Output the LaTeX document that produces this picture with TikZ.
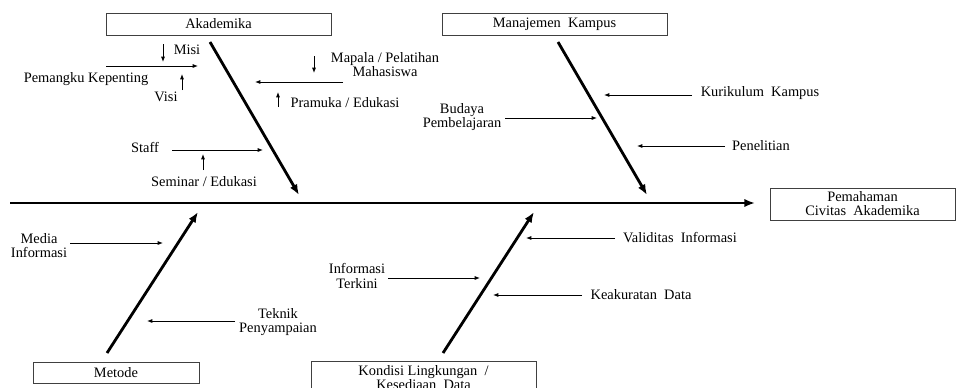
\documentclass[tikz,border=0pt]{standalone}
\usepackage{fontspec}
\setmainfont{Liberation Serif}
\usetikzlibrary{arrows.meta}

\tikzset{
  catbox/.style={draw=black!75, line width=0.6pt, inner sep=0pt, align=center},
  lbl/.style={inner sep=0pt, align=center},
  spine/.style={line width=1.7pt, -{Latex[length=9pt,width=7pt]}},
  bone/.style={line width=2.4pt, -{Latex[length=9pt,width=7pt]}},
  twig/.style={line width=0.8pt, -{Latex[length=4.5pt,width=3.5pt]}}
}

\begin{document}
\begin{tikzpicture}[x=0.03cm, y=-0.03cm, font=\fontsize{12.3}{12}\selectfont]
  \useasboundingbox (0,0) rectangle (957,387);

  % category boxes
  \node[catbox, minimum width=6.75cm, minimum height=0.66cm] (akad) at (218.5,24) {Akademika};
  \node[catbox, minimum width=6.75cm, minimum height=0.66cm] (manaj) at (554.5,24) {Manajemen\ \ Kampus};
  \node[catbox, minimum width=4.98cm, minimum height=0.63cm] (metode) at (116,372.5) {Metode};
  \node[catbox, anchor=north, minimum width=6.75cm, minimum height=1.0cm, inner ysep=1pt] (kondisi) at (423.5,361) {Kondisi Lingkungan\ \ /\\Kesediaan\ \ Data};
  % effect
  \node[catbox, minimum width=5.55cm, minimum height=0.96cm] (efek) at (862.5,204) {Pemahaman\\Civitas\ \ Akademika};

  % spine and bones
  \coordinate (tail) at (10,203);
  \coordinate (head) at (755,203);
  \coordinate (b1s) at (210,42);   \coordinate (b1e) at (299,195);
  \coordinate (b2s) at (558,42);   \coordinate (b2e) at (647,195);
  \coordinate (b3s) at (107,353);  \coordinate (b3e) at (198,212);
  \coordinate (b4s) at (443,353);  \coordinate (b4e) at (534,212);

  % akademika causes
  \node[lbl] (pemangku) at (86,79) {Pemangku Kepenting};
  \node[lbl] (misi) at (187,50) {Misi};
  \node[lbl] (visi) at (166,97) {Visi};
  \node[lbl] (mapala) at (385,65) {Mapala / Pelatihan\\Mahasiswa};
  \node[lbl] (pramuka) at (345,103) {Pramuka / Edukasi};
  \node[lbl] (staff) at (145,147) {Staff};
  \node[lbl] (seminar) at (204,182) {Seminar / Edukasi};
  \coordinate (pk1) at (106,66);   \coordinate (pk2) at (198,66);
  \coordinate (mi1) at (163,44);   \coordinate (mi2) at (163,62);
  \coordinate (vi1) at (182,90);   \coordinate (vi2) at (182,74);
  \coordinate (mp1) at (343,82);   \coordinate (mp2) at (255,82);
  \coordinate (md1) at (314,56);   \coordinate (md2) at (314,73);
  \coordinate (pr1) at (278,107);  \coordinate (pr2) at (278,92);
  \coordinate (st1) at (172,150);  \coordinate (st2) at (263,150);
  \coordinate (se1) at (203,170);  \coordinate (se2) at (203,154);

  % manajemen causes
  \node[lbl] (kurikulum) at (760,93) {Kurikulum\ \ Kampus};
  \node[lbl] (budaya) at (462,117) {Budaya\\Pembelajaran};
  \node[lbl] (penelitian) at (761,146) {Penelitian};
  \coordinate (ku1) at (692,95);   \coordinate (ku2) at (604,95);
  \coordinate (bu1) at (505,118);  \coordinate (bu2) at (597,118);
  \coordinate (pe1) at (725,146);  \coordinate (pe2) at (637,146);

  % metode causes
  \node[lbl] (media) at (39,246) {Media\\Informasi};
  \node[lbl] (teknik) at (278,322) {Teknik\\Penyampaian};
  \coordinate (me1) at (70,243);   \coordinate (me2) at (163,243);
  \coordinate (te1) at (235,321);  \coordinate (te2) at (147,321);

  % kondisi causes
  \node[lbl] (terkini) at (357,276) {Informasi\\Terkini};
  \node[lbl] (validitas) at (680,238) {Validitas\ \ Informasi};
  \node[lbl] (akurat) at (641,295) {Keakuratan\ \ Data};
  \coordinate (in1) at (388,278);  \coordinate (in2) at (480,278);
  \coordinate (va1) at (615,238);  \coordinate (va2) at (526,238);
  \coordinate (ke1) at (582,295);  \coordinate (ke2) at (493,295);


  % spine
  \draw[spine] (tail) -- (head);
  % bones
  \draw[bone] (b1s) -- (b1e);
  \draw[bone] (b2s) -- (b2e);
  \draw[bone] (b3s) -- (b3e);
  \draw[bone] (b4s) -- (b4e);

  % akademika
  \draw[twig] (pk1) -- (pk2);
  \draw[twig] (mi1) -- (mi2);
  \draw[twig] (vi1) -- (vi2);
  \draw[twig] (mp1) -- (mp2);
  \draw[twig] (md1) -- (md2);
  \draw[twig] (pr1) -- (pr2);
  \draw[twig] (st1) -- (st2);
  \draw[twig] (se1) -- (se2);

  % manajemen
  \draw[twig] (ku1) -- (ku2);
  \draw[twig] (bu1) -- (bu2);
  \draw[twig] (pe1) -- (pe2);

  % metode
  \draw[twig] (me1) -- (me2);
  \draw[twig] (te1) -- (te2);

  % kondisi
  \draw[twig] (in1) -- (in2);
  \draw[twig] (va1) -- (va2);
  \draw[twig] (ke1) -- (ke2);
\end{tikzpicture}
\end{document}
